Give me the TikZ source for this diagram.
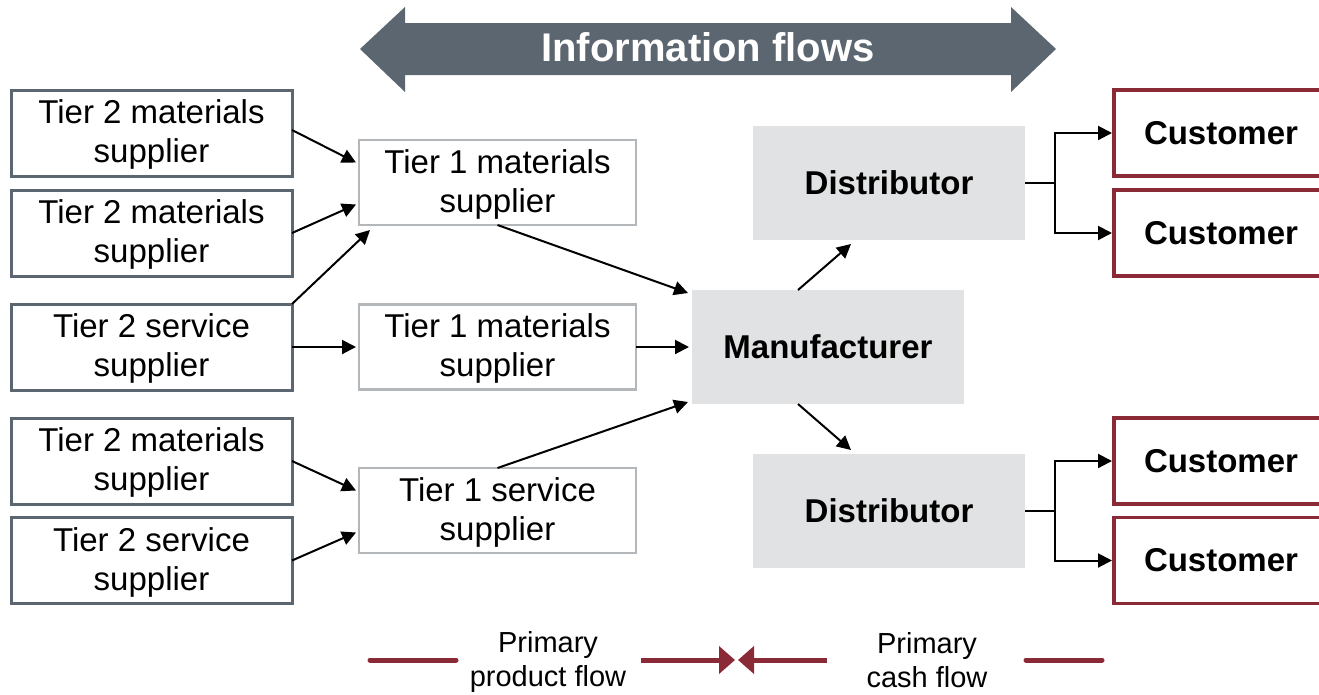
\documentclass[tikz,border=0pt]{standalone}
\usepackage{fontspec}
\setmainfont{Liberation Sans}
\usetikzlibrary{arrows.meta,calc}
\definecolor{slate}{HTML}{5C6670}
\definecolor{lightframe}{HTML}{B3B7BA}
\definecolor{boxfill}{HTML}{E1E2E3}
\definecolor{wine}{HTML}{8A2A36}
\tikzset{
  boxtext/.style={font=\fontsize{33}{39}\selectfont, align=center, inner sep=0pt, outer sep=0pt},
  tiertwo/.style={boxtext, draw=slate, line width=3pt, minimum width=281pt, minimum height=86pt},
  tierone/.style={boxtext, draw=lightframe, line width=2.5pt, minimum width=277pt, minimum height=85pt},
  greybox/.style={boxtext, font=\fontsize{33}{39}\selectfont\bfseries, fill=boxfill, minimum width=272pt, minimum height=114pt},
  custbox/.style={boxtext, font=\fontsize{33}{39}\selectfont\bfseries, draw=wine, line width=3.5pt, minimum width=214pt, minimum height=86pt},
  flow/.style={line width=2pt, -{Triangle[length=14pt,width=14pt]}},
  legendline/.style={wine, line width=5pt, line cap=round},
  legendarrow/.style={wine, line width=5pt, -{Triangle[length=16pt,width=27pt]}},
  legendtext/.style={font=\fontsize{29}{34}\selectfont, align=center, inner sep=0pt}
}
\begin{document}
\begin{tikzpicture}[x=1pt,y=-1pt]
\useasboundingbox (0,0) rectangle (1319,694);
% information flows arrow
\fill[slate] (360,49) -- (405,7) -- (405,23) -- (1011,23) -- (1011,7) -- (1056,49)
  -- (1011,92) -- (1011,75) -- (405,75) -- (405,92) -- cycle;
\node[font=\fontsize{40}{46}\selectfont\bfseries, text=white, inner sep=0pt] (info) at (708,47) {Information flows};
% tier 2
\node[tiertwo] (t2a) at (151.5,133) {\strut Tier 2 materials\\supplier};
\node[tiertwo] (t2b) at (151.5,233) {\strut Tier 2 materials\\supplier};
\node[tiertwo] (t2c) at (151.5,347) {\strut Tier 2 service\\supplier};
\node[tiertwo] (t2d) at (151.5,461) {\strut Tier 2 materials\\supplier};
\node[tiertwo] (t2e) at (151.5,560.5) {\strut Tier 2 service\\supplier};
% tier 1
\node[tierone] (t1a) at (497.5,182.5) {\strut Tier 1 materials\\supplier};
\node[tierone] (t1b) at (497.5,347) {\strut Tier 1 materials\\supplier};
\node[tierone] (t1c) at (497.5,510.5) {\strut Tier 1 service\\supplier};
% manufacturer and distributors
\node[greybox] (man) at (828,347) {Manufacturer};
\node[greybox] (dtop) at (889,183) {Distributor};
\node[greybox] (dbot) at (889,511) {Distributor};
% customers
\node[custbox] (c1) at (1221,133) {Customer};
\node[custbox] (c2) at (1221,233) {Customer};
\node[custbox] (c3) at (1221,461) {Customer};
\node[custbox] (c4) at (1221,560.5) {Customer};
% tier 2 -> tier 1
\draw[flow] ([yshift=3pt]t2a.east) -- ([xshift=-3pt,yshift=20pt]t1a.west);
\draw[flow] (t2b.east) -- ([xshift=-3pt,yshift=-22pt]t1a.west);
\draw[flow] (t2c.north east) -- ([xshift=11pt,yshift=-5pt]t1a.south west);
\draw[flow] (t2c.east) -- ([xshift=-3pt]t1b.west);
\draw[flow] (t2d.east) -- ([xshift=-3pt,yshift=20pt]t1c.west);
\draw[flow] (t2e.east) -- ([xshift=-3pt,yshift=-22pt]t1c.west);
% tier 1 -> manufacturer
\draw[flow] (t1a.south) -- ([xshift=-4pt,yshift=54pt]man.west);
\draw[flow] (t1b.east) -- ([xshift=-3pt]man.west);
\draw[flow] (t1c.north) -- ([xshift=-4pt,yshift=-55pt]man.west);
% manufacturer -> distributors
\draw[flow] ([xshift=-30pt]man.north) -- ([xshift=-38pt,yshift=-4pt]dtop.south);
\draw[flow] ([xshift=-30pt]man.south) -- ([xshift=-38pt,yshift=4pt]dbot.north);
% distributors -> customers
\draw[line width=2pt] (dtop.east) -- ++(30,0) coordinate (jtop);
\draw[flow] (jtop) |- ([xshift=-2pt]c1.west);
\draw[flow] (jtop) |- ([xshift=-2pt]c2.west);
\draw[line width=2pt] (dbot.east) -- ++(30,0) coordinate (jbot);
\draw[flow] (jbot) |- ([xshift=-2pt]c3.west);
\draw[flow] (jbot) |- ([xshift=-2pt]c4.west);
% legend
\node[legendtext] (prod) at (548,661) {\strut Primary\\product flow};
\node[legendtext] (cash) at (927,659) {\strut Primary\\cash flow};
\coordinate (la) at (370,660);
\coordinate (lb) at (456,660);
\coordinate (lc) at (641,660);
\coordinate (ld) at (735,660);
\coordinate (le) at (827,660);
\coordinate (lf) at (738,660);
\coordinate (lg) at (1026,660);
\coordinate (lh) at (1102,660);
\draw[legendline] (la) -- (lb);
\draw[legendarrow] (lc) -- (ld);
\draw[legendarrow] (le) -- (lf);
\draw[legendline] (lg) -- (lh);
\end{tikzpicture}
\end{document}
